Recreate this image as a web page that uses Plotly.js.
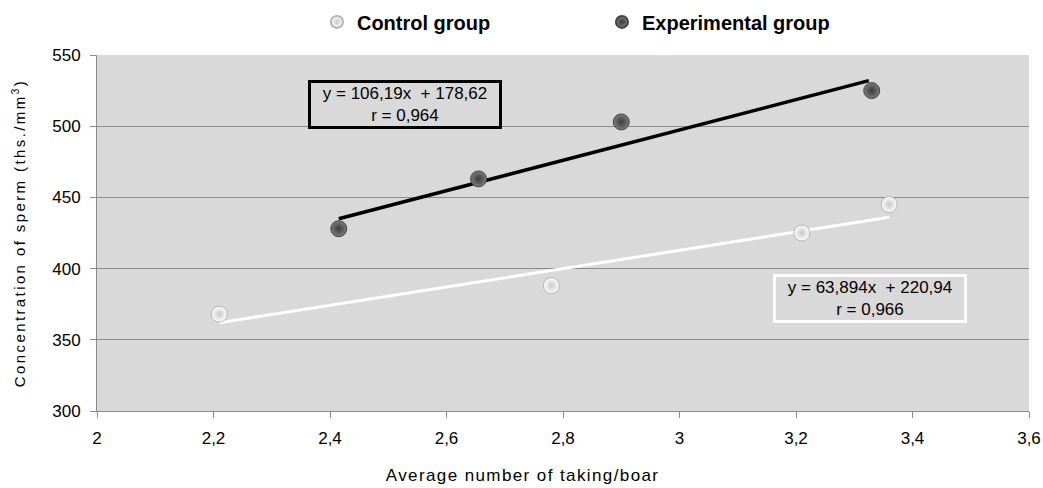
<!DOCTYPE html>
<html><head><meta charset="utf-8">
<script src="https://cdn.plot.ly/plotly-3.0.1.min.js"></script>
<style>
body{margin:0;background:#fff}#c{width:1043px;height:488px}
.ytitle{letter-spacing:2.4px}
g.annotation[data-index="2"] text{letter-spacing:1.4px}
</style>
</head><body><div id="c"></div>
<script>
const controlX = [2.21, 2.78, 3.21, 3.36];
const controlY = [368, 388, 425, 445];
const expX = [2.415, 2.655, 2.9, 3.33];
const expY = [428, 463, 503, 525];
const controlTrendX = [2.21, 3.36];
const controlTrendY = [362, 436];
const expTrendX = [2.415, 3.325];
const expTrendY = [435, 532];
const controlEq = 'y = 63,894x  + 220,94<br>r = 0,966';
const expEq = 'y = 106,19x  + 178,62<br>r = 0,964';
const xTitle = 'Average number of taking/boar';
const yTitle = 'Concentration of sperm (ths./mm<sup>3</sup>)';
const xTicks = [2, 2.2, 2.4, 2.6, 2.8, 3, 3.2, 3.4, 3.6];
const xTickText = ['2', '2,2', '2,4', '2,6', '2,8', '3', '3,2', '3,4', '3,6'];
const yTicks = [300, 350, 400, 450, 500, 550];

const font = 'Liberation Sans, Arial, sans-serif';
const traces = [
  {x: controlTrendX, y: controlTrendY, mode: 'lines', line: {color: '#ffffff', width: 3}, showlegend: false, hoverinfo: 'skip'},
  {x: expTrendX, y: expTrendY, mode: 'lines', line: {color: '#000000', width: 3.5}, showlegend: false, hoverinfo: 'skip'},
  {x: controlX, y: controlY, mode: 'markers', name: 'Control group',
   marker: {size: 16, color: '#ffffff', gradient: {type: 'radial', color: '#c8c8c8'}, line: {width: 1, color: '#b4b4b4'}}},
  {x: expX, y: expY, mode: 'markers', name: 'Experimental group',
   marker: {size: 16, color: '#7c7c7c', gradient: {type: 'radial', color: '#3c3c3c'}, line: {width: 1, color: '#444444'}}}
];
const layout = {
  width: 1043, height: 488,
  margin: {l: 97, r: 14, t: 55, b: 77, autoexpand: false},
  paper_bgcolor: '#ffffff', plot_bgcolor: '#d9d9d9',
  separators: ', ',
  font: {family: font, color: '#000'},
  xaxis: {range: [2, 3.6], tickvals: xTicks, ticktext: xTickText, showgrid: false, zeroline: false,
    showline: true, linecolor: '#8c8c8c', linewidth: 1, ticks: 'outside', ticklen: 6, tickcolor: '#8c8c8c',
    ticklabelstandoff: 6,
    tickfont: {size: 17, family: font}},
  yaxis: {range: [300, 550], tickvals: yTicks, showgrid: true, gridcolor: '#8c8c8c', gridwidth: 1, zeroline: false,
    showline: true, linecolor: '#8c8c8c', linewidth: 1, ticks: 'outside', ticklen: 6, tickcolor: '#8c8c8c',
    ticklabelstandoff: 6,
    tickfont: {size: 17, family: font}, title: {text: yTitle, font: {size: 15, family: font}, standoff: 22}},
  legend: {orientation: 'h', x: 0.236, xanchor: 'left', y: 1.093, yanchor: 'middle', entrywidth: 240,
    font: {size: 20, family: font, weight: 'bold'}, bgcolor: 'rgba(0,0,0,0)', itemsizing: 'constant'},
  annotations: [
    {xref: 'paper', yref: 'paper', x: 0.33, y: 0.862, xanchor: 'center', yanchor: 'middle', text: expEq, showarrow: false,
     font: {size: 17, family: font, color: '#000'}, bordercolor: '#000', borderwidth: 3, borderpad: 1, bgcolor: 'rgba(0,0,0,0)', width: 186},
    {xref: 'paper', yref: 'paper', x: 0.829, y: 0.316, xanchor: 'center', yanchor: 'middle', text: controlEq, showarrow: false,
     font: {size: 17, family: font, color: '#000'}, bordercolor: '#fff', borderwidth: 3, borderpad: 1, bgcolor: 'rgba(0,0,0,0)', width: 186},
    {xref: 'paper', yref: 'paper', x: 0.457, y: -0.182, xanchor: 'center', yanchor: 'middle', text: xTitle, showarrow: false,
     font: {size: 17, family: font, color: '#000'}}
  ]
};
Plotly.newPlot('c', traces, layout, {displayModeBar: false, staticPlot: true});
</script></body></html>
